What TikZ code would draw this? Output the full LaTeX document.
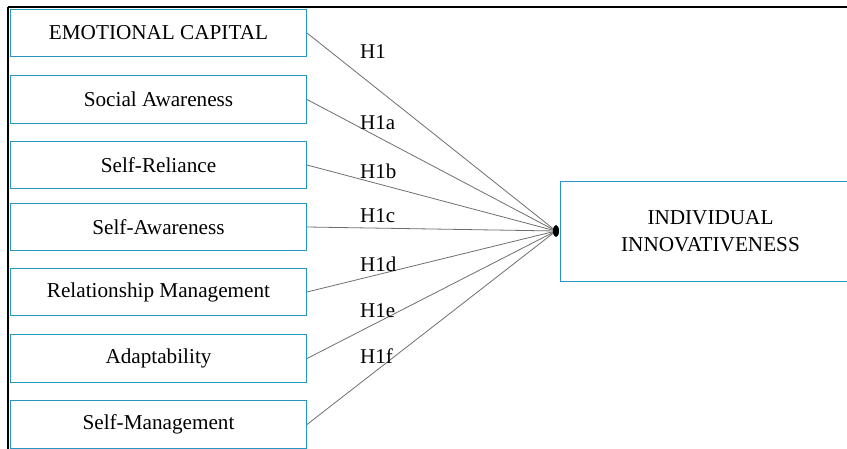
\documentclass[tikz,border=0pt]{standalone}
\usepackage{fontspec}
\setmainfont{Liberation Serif}
\usetikzlibrary{shapes.geometric}
\definecolor{boxblue}{RGB}{40,150,195}
\definecolor{linegray}{RGB}{110,110,110}
\tikzset{
  var/.style={draw=boxblue, line width=1pt, minimum width=296pt, minimum height=47pt,
    anchor=north west, inner sep=0pt, font=\fontsize{21.2}{27}\selectfont},
  hyp/.style={anchor=base west, inner sep=0pt, font=\fontsize{21}{27}\selectfont},
  conn/.style={draw=linegray, line width=0.8pt},
  frame/.style={line width=2pt, black}
}
\begin{document}
\begin{tikzpicture}[x=1pt,y=-1pt]
\useasboundingbox (0,0) rectangle (847,449);
\clip (0,0) rectangle (847,449);
\draw[frame] (8,7) coordinate (tl) -- (848,7) coordinate (tr);
\draw[frame] (tl) -- (8,450) coordinate (bl);
\node[var] (ec) at (10,9) {EMOTIONAL CAPITAL};
\node[var, minimum height=48pt] (sa) at (10,75) {Social Awareness};
\node[var] (sr) at (10,141) {Self-Reliance};
\node[var] (saw) at (10,203) {Self-Awareness};
\node[var] (rm) at (10,268) {Relationship Management};
\node[var, minimum height=48pt] (ad) at (10,334) {Adaptability};
\node[var, minimum height=48pt] (sm) at (10,400) {Self-Management};
\node[draw=boxblue, line width=1pt, minimum width=300pt, minimum height=100pt,
  anchor=north west, align=center, font=\fontsize{21.2}{27}\selectfont] (ii) at (560,181)
  {INDIVIDUAL\\INNOVATIVENESS};
\coordinate (hub) at (556,231);
\foreach \n in {ec,sa,sr,saw,rm,ad,sm} {\draw[conn] (\n.east) -- (hub);}
\node[ellipse, fill=black, inner sep=0pt, minimum width=6pt, minimum height=12pt] (dot) at (hub) {};
\node[hyp] (h1) at (360,59) {H1};
\node[hyp] (h1a) at (360,130) {H1a};
\node[hyp] (h1b) at (360,179) {H1b};
\node[hyp] (h1c) at (360,223) {H1c};
\node[hyp] (h1d) at (360,272) {H1d};
\node[hyp] (h1e) at (360,318) {H1e};
\node[hyp] (h1f) at (360,363) {H1f};
\end{tikzpicture}
\end{document}
